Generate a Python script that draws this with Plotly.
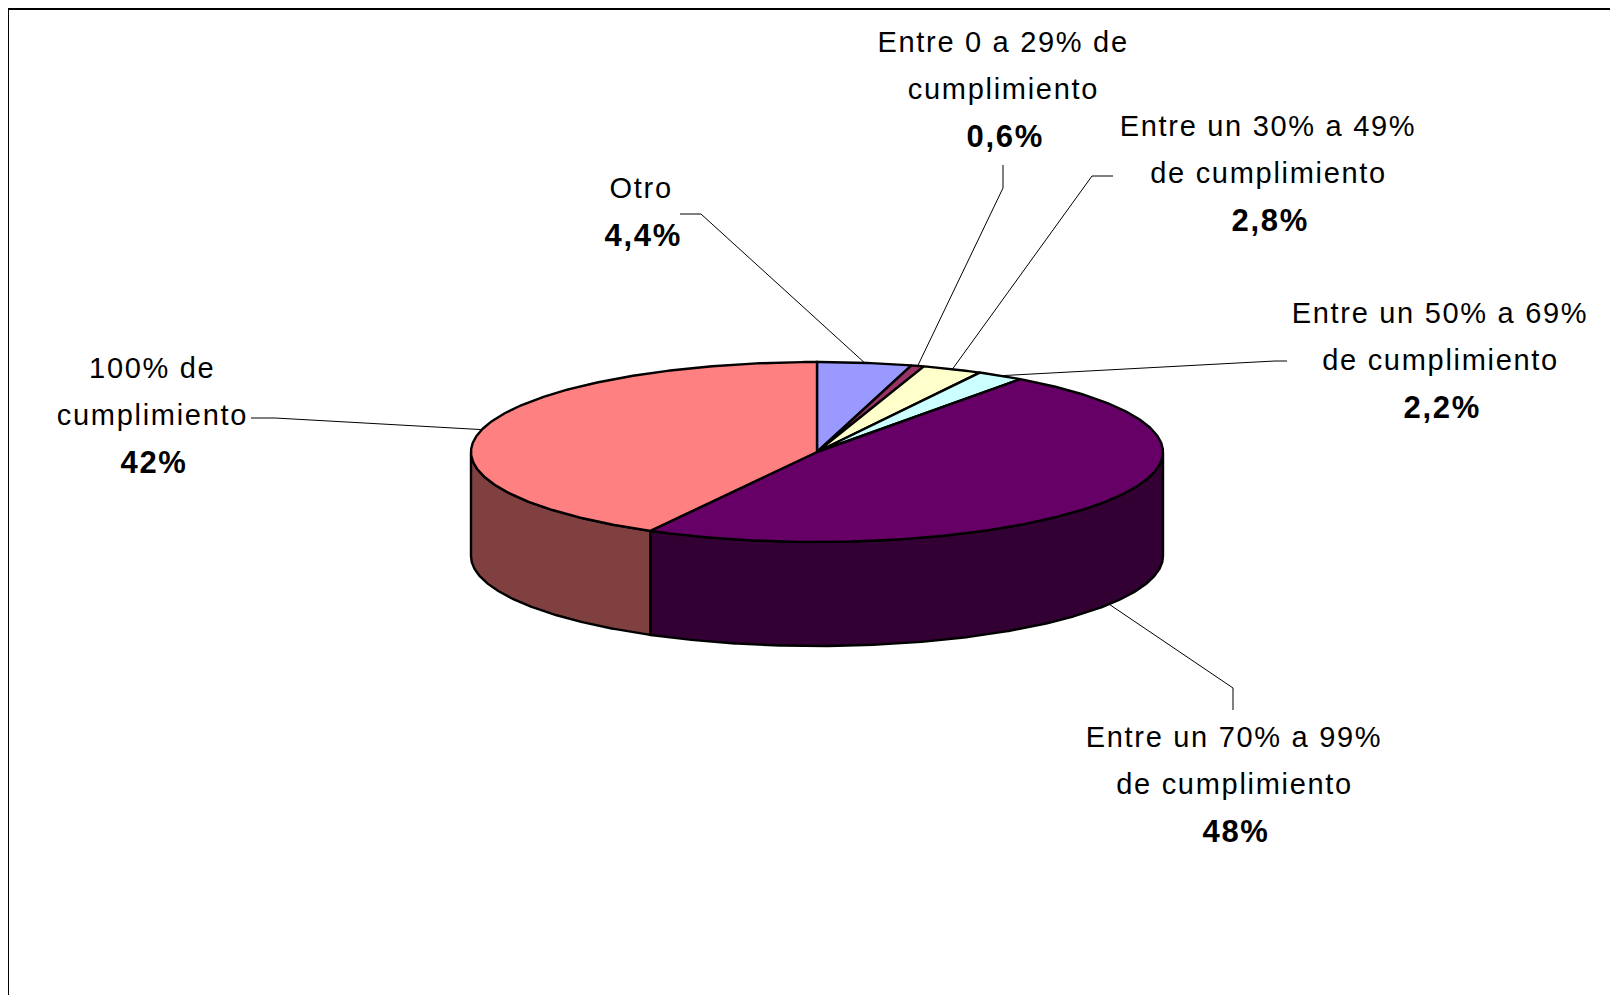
import numpy as np
import plotly.graph_objects as go

# ---------------- data ----------------
categories = ["Otro",
              "Entre 0 a 29% de cumplimiento",
              "Entre un 30% a 49% de cumplimiento",
              "Entre un 50% a 69% de cumplimiento",
              "Entre un 70% a 99% de cumplimiento",
              "100% de cumplimiento"]
values = [4.4, 0.6, 2.8, 2.2, 48, 42]
value_labels = ["4,4%", "0,6%", "2,8%", "2,2%", "48%", "42%"]
label_lines = [["Otro"],
               ["Entre 0 a 29% de", "cumplimiento"],
               ["Entre un 30% a 49%", "de cumplimiento"],
               ["Entre un 50% a 69%", "de cumplimiento"],
               ["Entre un 70% a 99%", "de cumplimiento"],
               ["100% de", "cumplimiento"]]
top_colors = ["#9999FF", "#993366", "#FFFFCC", "#CCFFFF", "#660066", "#FF8080"]
side_colors = ["#4C4C80", "#4C1933", "#808066", "#668080", "#330033", "#804040"]

# ---------------- layout parameters ----------------
W, H = 1618, 995
OFF = 8  # page body margin
cx, cy, rx, ry, depth = 817, 452, 346, 90, 104
label_x = [641, 1003, 1268, 1440, 1234, 152]
label_y0 = [188, 42, 126, 313, 737, 368]
line_gap = 47
elbows = [[(680, 214), (701, 214)],
          [(1003, 165), (1003, 188)],
          [(1113, 176), (1092, 176)],
          [(1287, 361), (1275, 361)],
          [(1233, 710), (1233, 688)],
          [(251, 418), (275, 418)]]
FONT = "Liberation Sans, Arial, sans-serif"

vals = np.array(values, dtype=float)
cum = np.concatenate([[0.0], np.cumsum(vals / vals.sum())]) * 360.0


def pt(theta, dz=0.0):
    t = np.radians(theta)
    return cx + rx * np.sin(t), cy - ry * np.cos(t) + dz


fig = go.Figure()

# side walls (front half only)
for i in range(len(vals)):
    a, b = max(cum[i], 90.0), min(cum[i + 1], 270.0)
    if a >= b:
        continue
    th = np.linspace(a, b, max(int((b - a) * 2), 2))
    xt, yt = pt(th)
    xb, yb = pt(th[::-1], depth)
    xs = np.concatenate([xt, xb, xt[:1]])
    ys = np.concatenate([yt, yb, yt[:1]])
    fig.add_trace(go.Scatter(x=xs, y=ys, mode="lines", fill="toself",
                             fillcolor=side_colors[i],
                             line=dict(color="black", width=2.4),
                             hoverinfo="skip", showlegend=False))

# top faces
for i in range(len(vals)):
    a, b = cum[i], cum[i + 1]
    th = np.linspace(a, b, max(int((b - a) * 2), 2))
    xt, yt = pt(th)
    xs = np.concatenate([[cx], xt, [cx]])
    ys = np.concatenate([[cy], yt, [cy]])
    fig.add_trace(go.Scatter(x=xs, y=ys, mode="lines", fill="toself",
                             fillcolor=top_colors[i],
                             line=dict(color="black", width=2.4),
                             hoverinfo="skip", showlegend=False,
                             name=categories[i]))

# leader lines
for i in range(len(vals)):
    mid = (cum[i] + cum[i + 1]) / 2
    dz = depth if np.cos(np.radians(mid)) < 0 else 0.0
    ex, ey = pt(mid, dz)
    xs = [p[0] for p in elbows[i]] + [ex]
    ys = [p[1] for p in elbows[i]] + [ey]
    fig.add_trace(go.Scatter(x=xs, y=ys, mode="lines",
                             line=dict(color="black", width=1),
                             hoverinfo="skip", showlegend=False))

# labels
annotations = []
for i in range(len(vals)):
    lines = label_lines[i]
    for k, ln in enumerate(lines):
        annotations.append(dict(x=label_x[i], y=label_y0[i] + k * line_gap,
                                xref="x", yref="y", text=ln, showarrow=False,
                                xanchor="center", yanchor="middle",
                                font=dict(family=FONT, size=29, color="black")))
    annotations.append(dict(x=label_x[i] + 2, y=label_y0[i] + len(lines) * line_gap,
                            xref="x", yref="y", text="<b>" + value_labels[i] + "</b>",
                            showarrow=False, xanchor="center", yanchor="middle",
                            font=dict(family=FONT, size=31, color="black")))

fig.update_layout(
    width=W, height=H,
    margin=dict(l=0, r=0, t=0, b=0),
    paper_bgcolor="white", plot_bgcolor="white",
    xaxis=dict(range=[OFF, W + OFF], visible=False, fixedrange=True),
    yaxis=dict(range=[H + OFF, OFF], visible=False, fixedrange=True),
    annotations=annotations,
    shapes=[dict(type="rect", xref="x", yref="y", x0=8, y0=9, x1=W + 30, y1=H + 30,
                 line=dict(color="black", width=2), fillcolor="rgba(0,0,0,0)")],
    showlegend=False,
)

post = ("document.querySelectorAll('.annotation-text').forEach(function(t){"
        "t.style.letterSpacing='1.7px';});")
fig.write_html("out.html", post_script=post)
